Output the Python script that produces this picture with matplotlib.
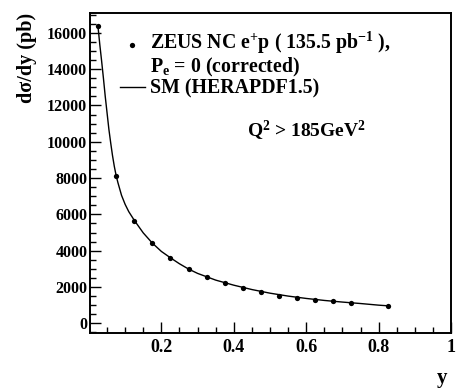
import matplotlib
matplotlib.use("Agg")
import matplotlib.pyplot as plt
from matplotlib.ticker import MultipleLocator, FixedLocator

# ZEUS NC e+p measurement, d(sigma)/dy in pb
y_bins = [0.025, 0.075, 0.125, 0.175, 0.225, 0.275, 0.325, 0.375,
          0.425, 0.475, 0.525, 0.575, 0.625, 0.675, 0.725, 0.825]
dsig_dy = [16400, 8130, 5650, 4400, 3610, 2970, 2530, 2230,
           1960, 1710, 1520, 1390, 1270, 1210, 1120, 940]

# Standard Model prediction (HERAPDF1.5)
sm_y = [0.025, 0.03, 0.035, 0.04, 0.045, 0.05, 0.055, 0.06, 0.065, 0.07,
        0.075, 0.08, 0.09, 0.10, 0.11, 0.125, 0.15, 0.175, 0.2, 0.225,
        0.25, 0.275, 0.3, 0.35, 0.4, 0.45, 0.5, 0.55, 0.6, 0.65, 0.7,
        0.75, 0.8, 0.825]
sm_val = [16350, 15350, 14450, 13500, 12500, 11600, 10700, 9950, 9250, 8650,
          8150, 7750, 7050, 6550, 6150, 5680, 4980, 4420, 3960, 3610,
          3280, 2990, 2750, 2380, 2100, 1860, 1660, 1500, 1370, 1260, 1170,
          1090, 1000, 965]

x_ticks = [0.2, 0.4, 0.6, 0.8, 1.0]
x_tick_labels = ["0.2", "0.4", "0.6", "0.8", "1"]
y_ticks = [0, 2000, 4000, 6000, 8000, 10000, 12000, 14000, 16000]

legend_lines = [r"ZEUS NC e$^{+}$p ( 135.5 pb$^{-1}$ ),",
                r"P$_{\rm e}$ = 0 (corrected)",
                "SM (HERAPDF1.5)"]

plt.rcParams["font.family"] = ["Liberation Serif", "DejaVu Serif"]
plt.rcParams["font.weight"] = "bold"
plt.rcParams["mathtext.fontset"] = "custom"
plt.rcParams["mathtext.rm"] = "Liberation Serif:bold"
plt.rcParams["mathtext.bf"] = "Liberation Serif:bold"
plt.rcParams["mathtext.it"] = "Liberation Serif:italic:bold"
plt.rcParams["mathtext.default"] = "rm"

fig = plt.figure(figsize=(4.57, 3.9), dpi=100)
ax = fig.add_axes([0.197, 0.1454, 0.790, 0.8206])

ax.plot(sm_y, sm_val, color="black", lw=1.0, solid_joinstyle="round")
ax.plot(y_bins, dsig_dy, "o", color="black", ms=3.8, mew=0)

ax.set_xlim(0.003, 1.0)
ax.set_ylim(-550, 17080)

ax.xaxis.set_major_locator(FixedLocator(x_ticks))
ax.set_xticklabels(x_tick_labels)
ax.xaxis.set_minor_locator(MultipleLocator(0.05))
ax.yaxis.set_major_locator(FixedLocator(y_ticks))
ax.yaxis.set_minor_locator(MultipleLocator(500))

ax.tick_params(which="both", direction="in", top=False, right=False, width=1.0)
ax.tick_params(which="major", length=8)
ax.tick_params(which="minor", length=4.5)
ax.tick_params(axis="y", which="major", labelsize=11.5, pad=2)
ax.tick_params(axis="x", which="major", labelsize=13, pad=4)
for lbl in ax.get_xticklabels() + ax.get_yticklabels():
    lbl.set_fontweight("bold")
for s in ax.spines.values():
    s.set_linewidth(1.4)

# axis titles placed in figure pixels
def fx(px):
    return px / 457.0

def fy(py):
    return 1.0 - py / 390.0

fig.text(fx(27), fy(13), "dσ/dy (pb)", rotation=90, ha="center", va="top",
         fontsize=14.5, fontweight="bold")
fig.text(fx(447), fy(383), "y", ha="right", va="baseline",
         fontsize=15, fontweight="bold")

# legend: symbols plus one three-line text block
fig.lines.append(plt.Line2D([fx(131.7)], [fy(45)], marker="o", ms=3.8,
                            mew=0, color="black", transform=fig.transFigure))
fig.lines.append(plt.Line2D([fx(120), fx(145)], [fy(86.7), fy(86.7)],
                            color="black", lw=1.0, transform=fig.transFigure))
fig.text(fx(150), fy(93.3), "\n".join(legend_lines), fontsize=14.3,
         fontweight="bold", va="baseline", ha="left", linespacing=0.98)
fig.text(fx(247), fy(136.7), r"Q$^{2}$ > 185GeV$^{2}$",
         fontsize=14, fontweight="bold", va="baseline")

fig.savefig("out.png", dpi=100)
